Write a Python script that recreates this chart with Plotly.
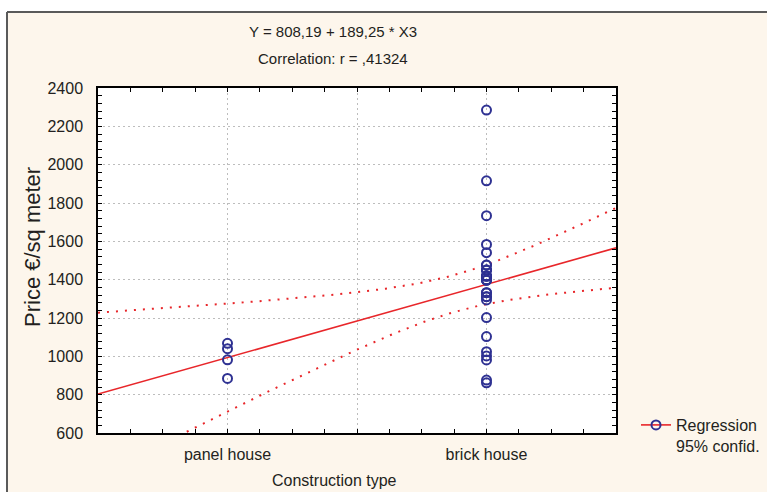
import numpy as np
import plotly.graph_objects as go

# ---------------- data ----------------
CATEGORIES = ["panel house", "brick house"]
CATEGORY_CODES = [1, 3]          # X3 coding used by the regression
PANEL_PRICES = [1068, 1040, 982, 885]
BRICK_PRICES = [2285, 1916, 1734, 1584, 1541, 1476, 1476, 1450, 1450, 1450,
                1419, 1419, 1419, 1419, 1398, 1398, 1398, 1398, 1332, 1332,
                1311, 1311, 1294, 1202, 1103, 1024, 1002, 981, 876, 862]
X_RANGE = [0, 4]
Y_RANGE = [600, 2400]
Y_TICKS = [600, 800, 1000, 1200, 1400, 1600, 1800, 2000, 2200, 2400]
EQUATION_TEXT = "Y = 808,19 + 189,25 * X3"
CORRELATION_TEXT = "Correlation: r = ,41324"
X_TITLE = "Construction type"
Y_TITLE = "Price €/sq meter"
LEGEND_TEXT = "Regression<br>95% confid."
T_CRIT = 2.0369   # t(0.975, df=32)

# ---------------- fit ----------------
x = np.array([CATEGORY_CODES[0]] * len(PANEL_PRICES) + [CATEGORY_CODES[1]] * len(BRICK_PRICES), dtype=float)
y = np.array(PANEL_PRICES + BRICK_PRICES, dtype=float)
n = len(x)
slope, intercept = np.polyfit(x, y, 1)
resid = y - (intercept + slope * x)
s = np.sqrt(np.sum(resid ** 2) / (n - 2))
xbar = x.mean()
sxx = np.sum((x - xbar) ** 2)
xs = np.linspace(X_RANGE[0], X_RANGE[1], 201)
yhat = intercept + slope * xs
half = T_CRIT * s * np.sqrt(1.0 / n + (xs - xbar) ** 2 / sxx)

RED = "#E8262A"
BLUE = "#2E3192"
FONT = "Liberation Sans, Arial, sans-serif"
TXT = "#231F20"

fig = go.Figure()
fig.add_trace(go.Scatter(x=xs, y=yhat + half, mode="lines", showlegend=False,
                         line=dict(color=RED, width=2, dash="2px,7px"), hoverinfo="skip"))
fig.add_trace(go.Scatter(x=xs, y=yhat - half, mode="lines", showlegend=False,
                         line=dict(color=RED, width=2, dash="2px,7px"), hoverinfo="skip"))
fig.add_trace(go.Scatter(x=xs, y=yhat, mode="lines", showlegend=False,
                         line=dict(color=RED, width=1.6)))
fig.add_trace(go.Scatter(x=x, y=y, mode="markers", showlegend=False,
                         marker=dict(symbol="circle-open", size=9, color=BLUE,
                                     line=dict(width=2, color=BLUE))))
fig.add_trace(go.Scatter(x=[None], y=[None], mode="lines+markers", name=LEGEND_TEXT,
                         line=dict(color=RED, width=1.6),
                         marker=dict(symbol="circle-open", size=9, color=BLUE,
                                     line=dict(width=2, color=BLUE))))

L, R, T, B = 98, 151, 88, 59
W, H = 767, 492
pw, ph = W - L - R, H - T - B
def px(v):
    return (v - L) / pw
def py(v):
    return (H - B - v) / ph

axis_common = dict(
    showline=True, linecolor="black", linewidth=1.5, mirror="ticks",
    ticks="inside", ticklen=4, tickcolor="black", tickwidth=1,
    showgrid=True, gridcolor="#BDBDBD", gridwidth=1.2, griddash="2px,3px",
    zeroline=False, tickfont=dict(family=FONT, size=16, color=TXT),
    automargin=False,
)

def ann(text, xp, yp, size, angle=0):
    return dict(text=text, x=px(xp), y=py(yp), xref="paper", yref="paper",
                xanchor="center", yanchor="middle", showarrow=False,
                textangle=angle, font=dict(size=size, family=FONT, color=TXT))

fig.update_layout(
    width=W, height=H, autosize=False,
    margin=dict(l=L, r=R, t=T, b=B, autoexpand=False),
    paper_bgcolor="#FDF6EC", plot_bgcolor="white",
    font=dict(family=FONT, color=TXT, size=16),
    xaxis=dict(range=X_RANGE, tickmode="array", tickvals=[1, 2, 3],
               ticktext=[CATEGORIES[0], "", CATEGORIES[1]],
               minor=dict(dtick=0.25, tick0=0, ticks="inside", ticklen=4,
                          tickcolor="black", showgrid=False),
               ticklabelstandoff=6, **axis_common),
    yaxis=dict(range=Y_RANGE, tickmode="array", tickvals=Y_TICKS,
               minor=dict(dtick=40, tick0=0, ticks="inside", ticklen=4,
                          tickcolor="black", showgrid=False),
               ticklabelstandoff=10, **axis_common),
    legend=dict(x=px(636), y=py(408), xanchor="left", yanchor="top",
                bgcolor="rgba(0,0,0,0)", valign="top",
                font=dict(family=FONT, size=16, color=TXT)),
    shapes=[
        dict(type="rect", xref="paper", yref="paper", x0=-0.4, x1=1.5,
             y0=py(12), y1=1.4, fillcolor="white", line=dict(width=0), layer="below"),
        dict(type="rect", xref="paper", yref="paper", x0=-0.4, x1=px(7),
             y0=-0.4, y1=1.4, fillcolor="white", line=dict(width=0), layer="below"),
        dict(type="line", xref="paper", yref="paper", x0=px(7), x1=1.5,
             y0=py(12), y1=py(12), line=dict(color="#5A5A5A", width=2)),
        dict(type="line", xref="paper", yref="paper", x0=px(7), x1=px(7),
             y0=py(12), y1=-0.4, line=dict(color="#5A5A5A", width=2)),
    ],
    annotations=[
        ann(EQUATION_TEXT, 333, 31, 15),
        ann(CORRELATION_TEXT, 333, 58, 15),
        ann(X_TITLE, 334, 480, 16),
        ann(Y_TITLE, 32, 247, 22, -90),
    ],
)

fig.write_html("out.html", config={"displayModeBar": False},
               post_script="document.body.style.margin='0';document.body.style.overflow='hidden';")
